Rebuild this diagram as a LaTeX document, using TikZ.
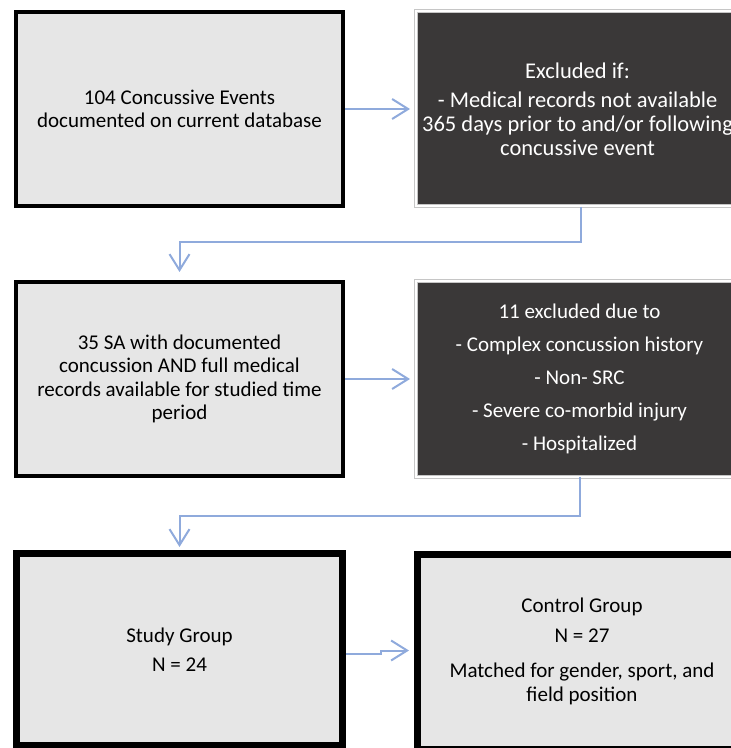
\documentclass[tikz,border=0pt]{standalone}
\usepackage{fontspec}
\setmainfont{Carlito}
\usepackage{xcolor}
\usepackage{tikz}
\usetikzlibrary{arrows.meta, positioning}
\definecolor{boxgrey}{HTML}{E6E6E6}
\definecolor{boxdark}{HTML}{3A3838}
\definecolor{linkblue}{HTML}{8FAADC}
\tikzset{
  % Flowchart styles
  greybox/.style={rectangle, minimum width=163.5pt, minimum height=97pt, text centered, align=center, draw=black, line width=2pt, fill=boxgrey, font=\fontsize{10.5}{11.75}\selectfont},
  darkbox/.style={rectangle, minimum width=#1, minimum height=97.5pt, text centered, align=center, draw=gray!45, line width=0.5pt, double=white, double distance=1pt, fill=boxdark, text=white, font=\fontsize{10.5}{11.75}\selectfont},
  darkbox/.default={164pt},
  groupbox/.style={greybox, line width=3.5pt, minimum width=#1, minimum height=96pt},
  groupbox/.default={163pt},
  arrow/.style={-{Straight Barb[length=8pt, width=10pt]}, draw=linkblue, line width=1pt},
}
\begin{document}
\begin{tikzpicture}
    \useasboundingbox (0,0) rectangle (365.5pt,-374pt);

    % Records
    \node[greybox] (events) at (89.75pt,-54.5pt) {104 Concussive Events\\documented on current database};
    \node[darkbox=157pt, font=\fontsize{11.25}{12pt}\selectfont, right=35pt of events] (excl1) {Excluded if:\\[2.5pt]- Medical records not available\\365 days prior to and/or following\\concussive event};

    % Eligible
    \node[greybox, below=36pt of events] (eligible) {35 SA with documented\\concussion AND full medical\\records available for studied time\\period};
    \node[darkbox, right=35pt of eligible] (excl2) {11 excluded due to\\[4.75pt]- Complex concussion history\\[4.75pt]- Non- SRC\\[4.75pt]- Severe co-morbid injury\\[4.75pt]- Hospitalized};

    % Groups
    \node[groupbox, below=36pt of eligible] (study) {Study Group\\[2.75pt]N = 24};
    \node[groupbox=164.5pt, minimum height=97.5pt, right=34pt of study, yshift=-1pt] (control) {Control Group\\[3.25pt]N = 27\\[5.75pt]Matched for gender, sport, and\\field position};

    % Arrows
    \draw[arrow, shorten >=2.5pt] (events) -- (excl1);
    \draw[arrow] ([xshift=1.5pt]excl1.south) -- ++(0,-17.5pt) -| ([yshift=4pt]eligible.north);
    \draw[arrow, shorten >=2.5pt] (eligible) -- (excl2);
    \draw[arrow] (excl2.south) -- ++(0,-19.5pt) -| ([yshift=1.5pt]study.north);
    \draw[arrow, shorten >=2.5pt] ([yshift=-2pt]study.east) -- ++(17.5pt,0) |- ([yshift=0.5pt]control.west);
  \end{tikzpicture}
\end{document}
